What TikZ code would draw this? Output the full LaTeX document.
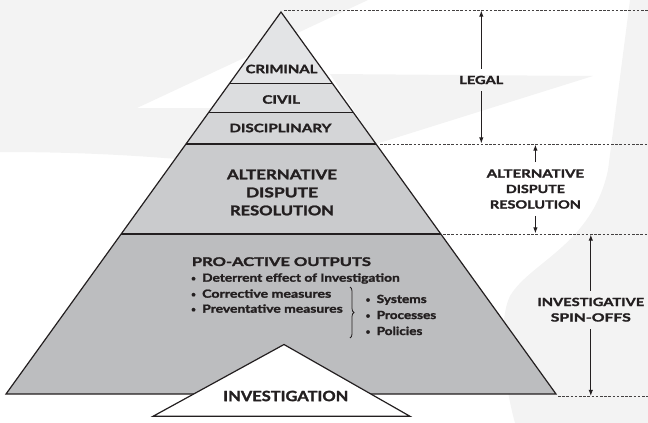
\documentclass[tikz,border=0pt]{standalone}
\usepackage{fontspec}
\setmainfont{Lato}[BoldFeatures={FakeBold=1.6}]
\usetikzlibrary{arrows.meta,calc,decorations.pathreplacing}

\definecolor{ink}{HTML}{231F20}
\definecolor{wm}{HTML}{F3F3F3}
\definecolor{tierA}{HTML}{E3E4E6}
\definecolor{tierB}{HTML}{DCDDDF}
\definecolor{tierC}{HTML}{D4D5D7}
\definecolor{tierD}{HTML}{CACBCD}
\definecolor{tierE}{HTML}{BCBDBF}

% set a line of text to a given width, keeping its height
\newcommand\spread[2]{\resizebox{#1pt}{\height}{#2}}
\newcommand\bulletmark{\makebox[11pt][l]{\raisebox{0.6pt}{\fontsize{8}{8}\selectfont •}}}

\begin{document}
\begin{tikzpicture}[x=1pt,y=-1pt,
  edge/.style={draw=ink, line width=1.2pt},
  guide/.style={draw=ink!85, line width=0.6pt, dash pattern=on 2.6pt off 1.6pt},
  arr/.style={draw=ink, line width=0.9pt, -{Latex[length=6pt,width=4.4pt]},
              shorten <=7pt, shorten >=0.6pt},
  tier/.style={font=\bfseries\fontsize{11.6}{14}\selectfont, text=ink, inner sep=0pt},
  tierbig/.style={font=\bfseries\fontsize{13.4}{18}\selectfont, text=ink, inner sep=0pt, align=center},
  base/.style={font=\bfseries\fontsize{14.2}{16}\selectfont, text=ink, inner sep=0pt},
  head/.style={font=\bfseries\fontsize{12}{14}\selectfont, text=ink, inner sep=0pt, anchor=base west},
  item/.style={font=\bfseries\fontsize{11.2}{13}\selectfont, text=ink, inner sep=0pt, anchor=base west},
  side/.style={font=\bfseries\fontsize{11.3}{15.5}\selectfont, text=ink, inner sep=0pt, align=center},
  brace/.style={draw=ink, line width=0.8pt, decorate, decoration={brace, amplitude=4pt}}
]
\useasboundingbox (0,0) rectangle (648,423);

% faint watermark shapes in the background
\fill[wm] (0,0) -- (368,0) -- (137,108) -- (300,108) -- (300,172)
  .. controls (200,160) and (120,152) .. (0,152) -- cycle;
\fill[wm] (330,74) -- (593,76) -- (376,144) -- cycle;
\fill[wm] (630,0) -- (648,0) -- (648,423) -- (515,423)
  .. controls (503,380) and (498,320) .. (510,296)
  .. controls (530,262) and (592,245) .. (608,170) -- cycle;

% pyramid corners and tier boundaries
\coordinate (A) at (281,12);
\coordinate (L) at (6,394);
\coordinate (R) at (556,394);
\coordinate (l1) at ($(A)!0.1872!(L)$); \coordinate (r1) at ($(A)!0.1872!(R)$);
\coordinate (l2) at ($(A)!0.2631!(L)$); \coordinate (r2) at ($(A)!0.2631!(R)$);
\coordinate (l3) at ($(A)!0.3455!(L)$); \coordinate (r3) at ($(A)!0.3455!(R)$);
\coordinate (l4) at ($(A)!0.5812!(L)$); \coordinate (r4) at ($(A)!0.5812!(R)$);

% tier fills
\fill[tierA] (A) -- (l1) -- (r1) -- cycle;
\fill[tierB] (l1) -- (l2) -- (r2) -- (r1) -- cycle;
\fill[tierC] (l2) -- (l3) -- (r3) -- (r2) -- cycle;
\fill[tierD] (l3) -- (l4) -- (r4) -- (r3) -- cycle;
\fill[tierE] (l4) -- (L) -- (R) -- (r4) -- cycle;

% tier lines and outline
\draw[edge] (l1) -- (r1);
\draw[edge] (l2) -- (r2);
\draw[edge] (l3) -- (r3);
\draw[edge] (l4) -- (r4);
\draw[edge, line join=miter] (A) -- (L) -- (R) -- cycle;

% base triangle
\coordinate (bA) at (284,344.5);
\coordinate (bL) at (153,416.3);
\coordinate (bR) at (410,416.3);
\filldraw[edge, fill=white, line join=miter] (bA) -- (bL) -- (bR) -- cycle;

% dashed guide lines
\coordinate (g1s) at (284,10);  \coordinate (g1e) at (648,10);
\coordinate (g2s) at (380,144); \coordinate (g2e) at (648,144);
\coordinate (g3s) at (443,234); \coordinate (g3e) at (648,234);
\coordinate (g4s) at (558,396.5); \coordinate (g4e) at (648,396.5);
\draw[guide] (g1s) -- (g1e);
\draw[guide] (g2s) -- (g2e);
\draw[guide] (g3s) -- (g3e);
\draw[guide] (g4s) -- (g4e);

% pyramid labels
\node[tier] (crim) at (281.5,69) {\spread{71.7}{CRIMINAL}};
\node[tier] (civ) at (281.2,99.5) {\spread{37.7}{CIVIL}};
\node[tier] (disc) at (280.4,128) {\spread{102}{DISCIPLINARY}};
\node[tierbig] (adr) at (282,192.5)
  {\spread{110}{ALTERNATIVE}\\\spread{72}{DISPUTE}\\\spread{104}{RESOLUTION}};
\node[base] (inv) at (285.8,396) {\spread{125}{INVESTIGATION}};

\node[head] (pro) at (191.7,266) {\spread{179}{PRO-ACTIVE OUTPUTS}};
\node[item] (i1) at (191,281.7) {\bulletmark\spread{197.5}{Deterrent effect of Investigation}};
\node[item] (i2) at (191,297.7) {\bulletmark\spread{129}{Corrective measures}};
\node[item] (i3) at (191,312.7) {\bulletmark\spread{140.5}{Preventative measures}};
\coordinate (brT) at (350,287);
\coordinate (brB) at (350,338);
\draw[brace] (brT) -- (brB);
\node[item] (s1) at (365.5,303) {\bulletmark\spread{50}{Systems}};
\node[item] (s2) at (365.5,319) {\bulletmark\spread{59.5}{Processes}};
\node[item] (s3) at (365.5,335) {\bulletmark\spread{45.7}{Policies}};

% side labels with range arrows
\node[side] (legal) at (481.3,80) {\spread{44}{LEGAL}};
\node[side] (adr2) at (535.4,189)
  {\spread{97.3}{ALTERNATIVE}\\\spread{59}{DISPUTE}\\\spread{91}{RESOLUTION}};
\node[side] (spin) at (590.8,309.7) {\spread{106.7}{INVESTIGATIVE}\\\spread{80}{SPIN-OFFS}};

\draw[arr] (legal.north) -- (legal.north |- g1s);
\draw[arr] (legal.south) -- (legal.south |- g2s);
\draw[arr] (adr2.north) -- (adr2.north |- g2s);
\draw[arr] (adr2.south) -- (adr2.south |- g3s);
\draw[arr] (spin.north) -- (spin.north |- g3s);
\draw[arr] (spin.south) -- (spin.south |- g4s);
\end{tikzpicture}
\end{document}
